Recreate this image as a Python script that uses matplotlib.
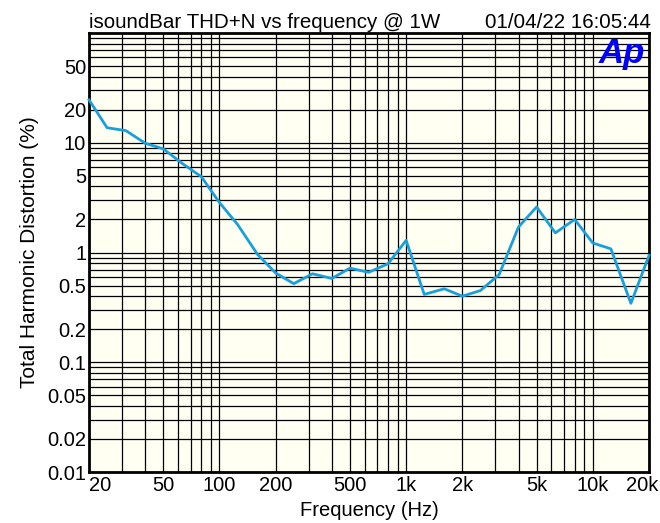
import numpy as np
import matplotlib.pyplot as plt
import matplotlib.transforms as mtransforms
from matplotlib.ticker import FixedLocator, NullFormatter, FixedFormatter

plt.rcParams['font.family'] = ['Liberation Sans', 'DejaVu Sans']

# Daten (1/3-Oktave)
freq = [20, 25, 31.5, 40, 50, 63, 80, 100, 125, 160, 200, 250, 315, 400, 500,
        630, 800, 1000, 1250, 1600, 2000, 2500, 3150, 4000, 5000, 6300, 8000,
        10000, 12500, 16000, 20000]
thdn = [24.6, 13.7, 12.9, 9.9, 8.8, 6.5, 4.9, 2.85, 1.8, 0.96, 0.65, 0.52,
        0.64, 0.58, 0.72, 0.66, 0.79, 1.29, 0.415, 0.467, 0.40, 0.45, 0.63,
        1.71, 2.6, 1.51, 2.0, 1.22, 1.08, 0.344, 0.94]

x_ticks = [20, 50, 100, 200, 500, 1000, 2000, 5000, 10000, 20000]
x_labels = ['20', '50', '100', '200', '500', '1k', '2k', '5k', '10k', '20k']
y_ticks = [0.01, 0.02, 0.05, 0.1, 0.2, 0.5, 1, 2, 5, 10, 20, 50]
y_labels = ['0.01', '0.02', '0.05', '0.1', '0.2', '0.5', '1', '2', '5', '10', '20', '50']

fig = plt.figure(figsize=(6.6, 5.23), dpi=100)
ax = fig.add_axes([89 / 660, 1 - 472 / 523, 560 / 660, 439 / 523])
ax.set_facecolor('#fffff2')

ax.plot(freq, thdn, color='#18a0dc', linewidth=2.0, zorder=3, clip_on=False)

ax.set_xscale('log')
ax.set_yscale('log')
ax.set_xlim(20, 20000)
ax.set_ylim(0.01, 100)

# Gitter bei 1..9 je Dekade
x_grid = [m * 10 ** e for e in range(1, 5) for m in range(1, 10) if 20 <= m * 10 ** e <= 20000]
y_grid = [m * 10.0 ** e for e in range(-2, 2) for m in range(1, 10)]
for xv in x_grid:
    ax.axvline(xv, color='black', linewidth=0.9, zorder=1)
for yv in y_grid:
    ax.axhline(yv, color='black', linewidth=0.9, zorder=1)

ax.xaxis.set_major_locator(FixedLocator(x_ticks))
ax.xaxis.set_major_formatter(FixedFormatter(x_labels))
ax.xaxis.set_minor_locator(FixedLocator([]))
ax.xaxis.set_minor_formatter(NullFormatter())
ax.yaxis.set_major_locator(FixedLocator(y_ticks))
ax.yaxis.set_major_formatter(FixedFormatter(y_labels))
ax.yaxis.set_minor_locator(FixedLocator([]))
ax.yaxis.set_minor_formatter(NullFormatter())
ax.tick_params(length=0, labelsize=14.5)
ax.tick_params(axis='x', pad=3)
ax.tick_params(axis='y', pad=2)

# erste/letzte x-Beschriftung bündig
xl = ax.get_xticklabels()
xl[0].set_horizontalalignment('left')
xl[-1].set_horizontalalignment('right')
offset = mtransforms.ScaledTranslation(9 / 100, 0, fig.dpi_scale_trans)
xl[-1].set_transform(xl[-1].get_transform() + offset)

for s in ax.spines.values():
    s.set_linewidth(2)

ax.set_xlabel('Frequency (Hz)', fontsize=14.5, labelpad=4)
ax.set_ylabel('Total Harmonic Distortion (%)', fontsize=15, labelpad=6)

fig.text(89 / 660, 1 - 28 / 523, 'isoundBar THD+N vs frequency @ 1W', fontsize=14.8, ha='left', va='baseline')
fig.text(651 / 660, 1 - 28 / 523, '01/04/22 16:05:44', fontsize=14.8, ha='right', va='baseline')
ax.text(0.993, 0.99, 'Ap', transform=ax.transAxes, ha='right', va='top', fontsize=25,
        fontweight='bold', fontstyle='italic', color='#0000ff', zorder=4)

fig.savefig('out.png', dpi=100)
